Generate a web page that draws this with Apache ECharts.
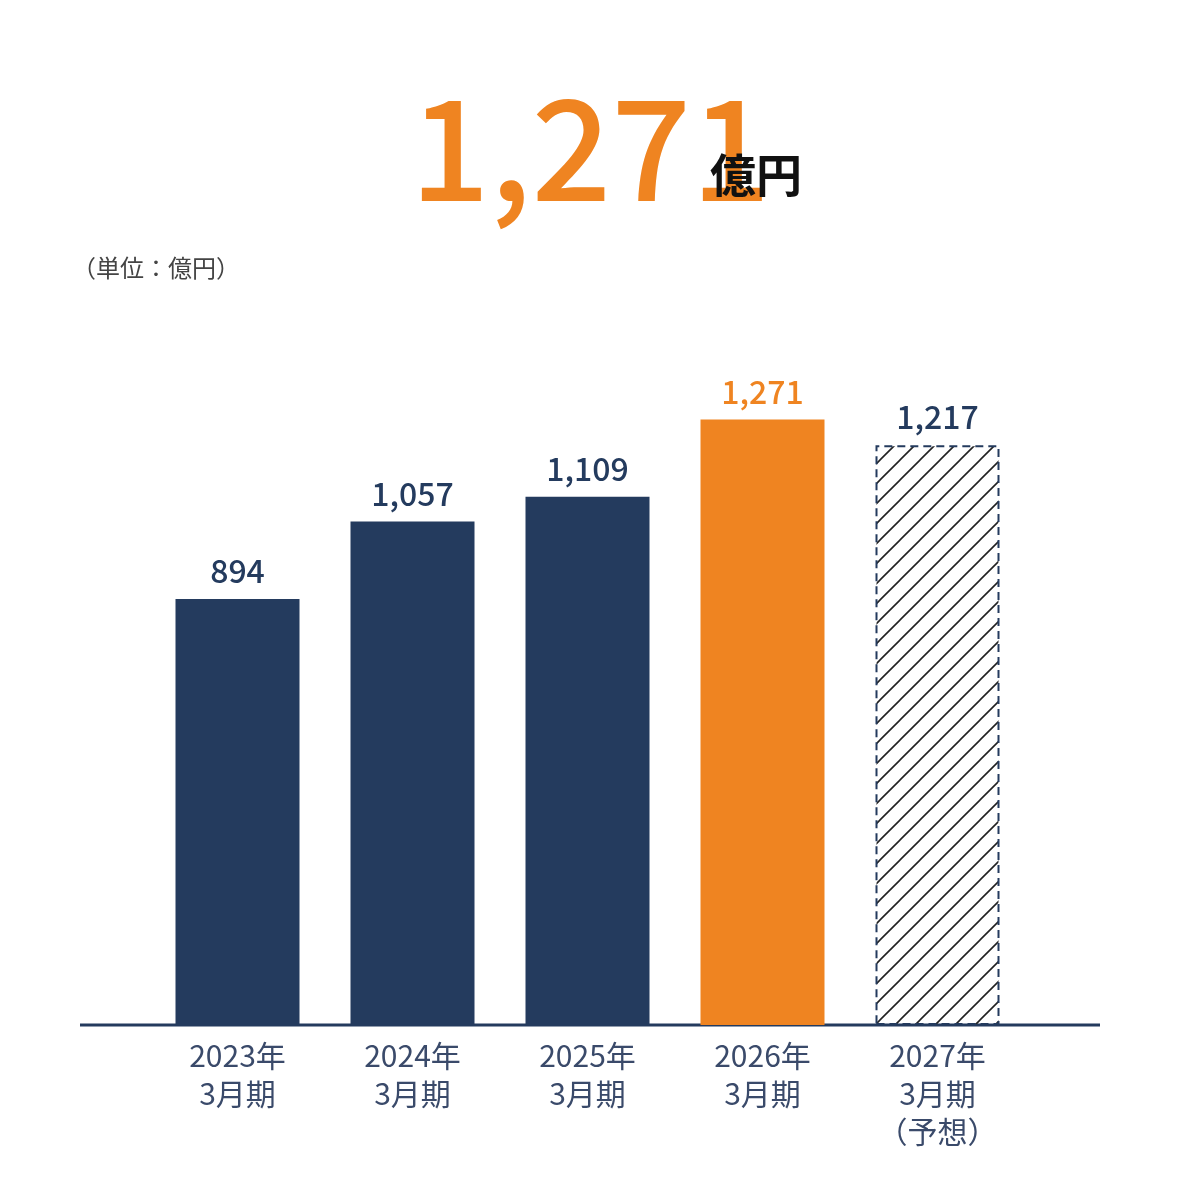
<!DOCTYPE html>
<html>
<head>
    <meta charset="utf-8">
    <style>
        body { margin: 0; background: #fff; }
        #main { width: 1180px; height: 1200px; }
    </style>
    <script src="https://cdn.jsdelivr.net/npm/echarts@6/dist/echarts.min.js"></script>
</head>
<body>
    <div id="main"></div>
    <script type="text/javascript">
        var categories = ['2023年\n3月期', '2024年\n3月期', '2025年\n3月期', '2026年\n3月期', '2027年\n3月期\n（予想）'];
        var values = [894, 1057, 1109, 1271, 1217];
        var navy = '#243b5e';
        var orange = '#ef8421';
        var font = '"Noto Sans CJK JP", "Noto Sans", sans-serif';

        // hatch pattern for the forecast bar
        var hatch = document.createElement('canvas');
        hatch.width = 20; hatch.height = 20;
        var ctx = hatch.getContext('2d');
        ctx.strokeStyle = '#222';
        ctx.lineWidth = 1.6;
        ctx.beginPath();
        ctx.moveTo(0, 20); ctx.lineTo(20, 0);
        ctx.moveTo(-5, 5); ctx.lineTo(5, -5);
        ctx.moveTo(15, 25); ctx.lineTo(25, 15);
        ctx.stroke();

        var data = values.map(function (v, i) {
            if (i === 3) {
                return { value: v, itemStyle: { color: orange }, label: { color: orange } };
            }
            if (i === 4) {
                return {
                    value: v,
                    itemStyle: {
                        color: { image: hatch, repeat: 'repeat' },
                        borderColor: navy, borderWidth: 2, borderType: [8, 5]
                    }
                };
            }
            return v;
        });

        var myChart = echarts.init(document.getElementById('main'));
        myChart.setOption({
            animation: false,
            grid: { left: 150, width: 875, top: 358, bottom: 175 },
            graphic: [
                { type: 'line', shape: { x1: 80, y1: 1025, x2: 1100, y2: 1025 }, style: { stroke: navy, lineWidth: 3 } },
                { type: 'text', left: 410, top: 78, style: { text: '1,271', font: '500 140px ' + font, fill: orange } },
                { type: 'text', left: 710, top: 152, style: { text: '億円', font: 'bold 46px ' + font, fill: '#111' } },
                { type: 'text', left: 72, top: 256, style: { text: '（単位：億円）', font: '24px ' + font, fill: '#444' } }
            ],
            xAxis: {
                type: 'category',
                data: categories,
                axisLine: { show: false },
                axisTick: { show: false },
                axisLabel: { color: '#3a4a6a', fontSize: 30, lineHeight: 38, margin: 12, fontFamily: font }
            },
            yAxis: { type: 'value', min: 0, max: 1400, show: false },
            series: [{
                type: 'bar',
                barWidth: 124,
                data: data,
                itemStyle: { color: navy },
                label: {
                    show: true, position: 'top', distance: 12,
                    color: navy, fontSize: 32, fontWeight: 500, fontFamily: font,
                    formatter: function (p) { return p.value.toLocaleString('en-US'); }
                }
            }]
        });
    </script>
</body>
</html>
